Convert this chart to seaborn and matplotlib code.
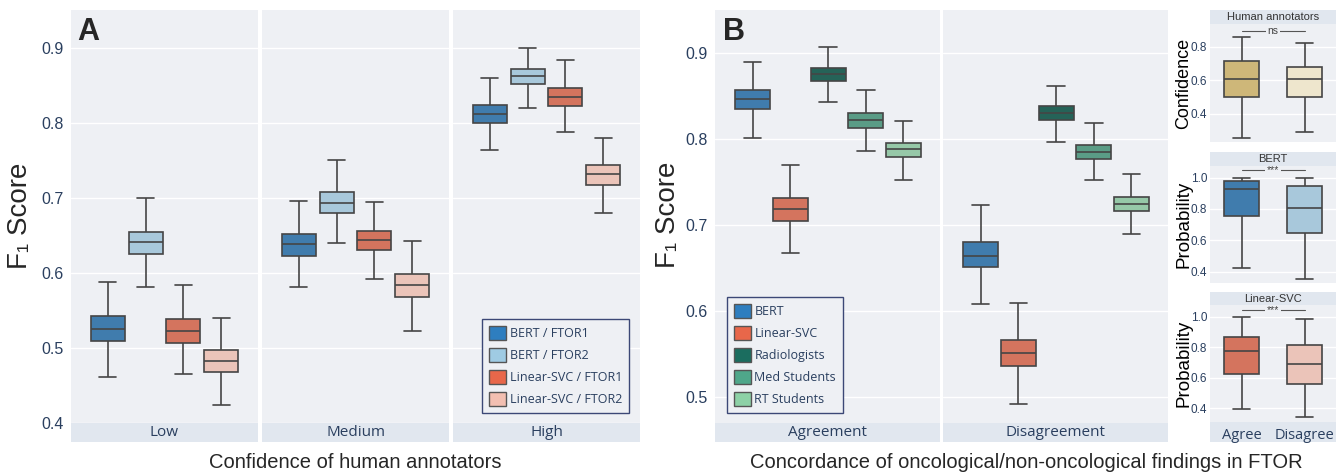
import numpy as np
import pandas as pd
import seaborn as sns
import matplotlib.pyplot as plt
from matplotlib.patches import Patch

W, H = 1342, 473

# Panel A - F1 score by confidence of human annotators
# each box: min, q1, median, q3, max
conf_levels = ['Low', 'Medium', 'High']
models_a = ['BERT / FTOR1', 'BERT / FTOR2', 'Linear-SVC / FTOR1', 'Linear-SVC / FTOR2']
bert_ftor1 = [[0.461, 0.509, 0.525, 0.542, 0.588],
              [0.581, 0.623, 0.639, 0.652, 0.696],
              [0.764, 0.799, 0.812, 0.824, 0.860]]
bert_ftor2 = [[0.581, 0.625, 0.641, 0.655, 0.700],
              [0.640, 0.679, 0.693, 0.708, 0.750],
              [0.820, 0.851, 0.862, 0.871, 0.900]]
svc_ftor1 = [[0.465, 0.507, 0.522, 0.538, 0.584],
             [0.592, 0.631, 0.644, 0.656, 0.694],
             [0.787, 0.822, 0.834, 0.846, 0.883]]
svc_ftor2 = [[0.424, 0.468, 0.483, 0.497, 0.540],
             [0.522, 0.568, 0.584, 0.598, 0.643],
             [0.679, 0.717, 0.731, 0.743, 0.780]]
colors_a = ['#2e7ebf', '#9fcbe3', '#e8674a', '#f3bfb1']

# Panel B - F1 score by concordance of findings
concordance = ['Agreement', 'Disagreement']
groups_b = ['BERT', 'Linear-SVC', 'Radiologists', 'Med Students', 'RT Students']
bert_b = [[0.801, 0.835, 0.847, 0.857, 0.890],
          [0.608, 0.651, 0.664, 0.680, 0.723]]
svc_b = [[0.667, 0.705, 0.719, 0.731, 0.770],
         [0.492, 0.536, 0.551, 0.566, 0.610]]
radiologists_b = [[0.843, 0.867, 0.876, 0.883, 0.907],
                  [0.797, 0.822, 0.830, 0.838, 0.862]]
med_students_b = [[0.786, 0.813, 0.822, 0.830, 0.857],
                  [0.752, 0.777, 0.785, 0.793, 0.819]]
rt_students_b = [[0.753, 0.779, 0.788, 0.796, 0.821],
                 [0.690, 0.716, 0.725, 0.733, 0.759]]
colors_b = ['#2e7ebf', '#e8674a', '#1b6d5f', '#4fa78a', '#8dd1a6']

# small panels on the right
agree_cats = ['Agree', 'Disagree']
human_conf = [[0.256, 0.500, 0.608, 0.712, 0.856],
              [0.292, 0.500, 0.608, 0.678, 0.820]]
bert_prob = [[0.421, 0.755, 0.928, 0.979, 0.996],
             [0.351, 0.645, 0.804, 0.949, 0.996]]
svc_prob = [[0.396, 0.622, 0.778, 0.866, 0.998],
            [0.341, 0.558, 0.690, 0.813, 0.985]]
side_titles = ['Human annotators', 'BERT', 'Linear-SVC']
side_ylabels = ['Confidence', 'Probability', 'Probability']
side_colors = [['#dcbd6b', '#f4e9c7'], ['#2e7ebf', '#9fcbe3'], ['#e8674a', '#f3bfb1']]
sig_text = ['ns', '***', '***']
sig_y = [0.896, 1.047, 1.044]

BG = '#eef0f4'
STRIP = '#e1e7ef'
TICK = '#2a3f5f'
LINE = '#454545'


def long_table(levels, names, series, col):
    rows = []
    for i, lvl in enumerate(levels):
        for name, vals in zip(names, series):
            for v in vals[i]:
                rows.append((lvl, name, v))
    return pd.DataFrame(rows, columns=['level', 'group', col])


df_a = long_table(conf_levels, models_a, [bert_ftor1, bert_ftor2, svc_ftor1, svc_ftor2], 'f1')
df_b = long_table(concordance, groups_b, [bert_b, svc_b, radiologists_b, med_students_b, rt_students_b], 'f1')

sns.set_theme(style='darkgrid', rc={'axes.facecolor': BG, 'grid.color': 'white', 'grid.linewidth': 1.0})
plt.rcParams['font.family'] = ['Liberation Sans', 'DejaVu Sans']

fig = plt.figure(figsize=(W / 100, H / 100), dpi=100)


def px_axes(x0, x1, y0, y1):
    return fig.add_axes([x0 / W, 1 - y1 / H, (x1 - x0) / W, (y1 - y0) / H])


def strip(x0, x1, y0, y1, label, **kw):
    s = px_axes(x0, x1, y0, y1)
    s.set_facecolor(STRIP)
    s.set_xticks([])
    s.set_yticks([])
    s.grid(False)
    for sp in s.spines.values():
        sp.set_visible(False)
    if label:
        s.text(0.5, 0.5, label, ha='center', va='center', transform=s.transAxes, **kw)
    return s


def boxes(ax, data, y, order, palette, width, xlim, ylim, yticks, show_y, ysize, pad):
    sns.boxplot(data=data, x='group', y=y, hue='group', order=order, hue_order=order,
                palette=palette, width=width, whis=(0, 100), showfliers=False,
                linecolor=LINE, linewidth=1.2, legend=False, ax=ax)
    ax.set_xlim(*xlim)
    ax.set_ylim(*ylim)
    ax.set_yticks(yticks)
    ax.set_xlabel('')
    ax.set_ylabel('')
    ax.tick_params(axis='x', length=0, labelbottom=False)
    ax.tick_params(axis='y', length=0, pad=pad, labelsize=ysize, labelcolor=TICK, labelleft=show_y)
    for sp in ax.spines.values():
        sp.set_visible(False)


def add_legend(ax, colors, labels, loc, anchor):
    handles = [Patch(facecolor=c, edgecolor='#555555', linewidth=1) for c in colors]
    leg = ax.legend(handles, labels, loc=loc, bbox_to_anchor=anchor,
                    frameon=True, fancybox=False, framealpha=1, edgecolor='#3c4876',
                    prop={'family': 'Open Sans', 'size': 9}, labelcolor=TICK,
                    handlelength=1.35, handleheight=1.35, handletextpad=0.3,
                    labelspacing=0.62, borderpad=0.55, borderaxespad=0)
    leg.get_frame().set_linewidth(1.0)


# ---- panel A facets
a_edges = [(71, 258), (262, 449), (453, 640)]
for i, (lvl, (x0, x1)) in enumerate(zip(conf_levels, a_edges)):
    ax = px_axes(x0, x1, 10, 423)
    boxes(ax, df_a[df_a['level'] == lvl], 'f1', models_a, colors_a, 0.9, (-0.97, 3.97),
          (0.4, 0.95), np.arange(0.4, 0.95, 0.1), i == 0, 11.5, 5)
    ax.set_yticklabels([f'{t:.1f}' for t in np.arange(0.4, 0.95, 0.1)])
    strip(x0, x1, 423, 442, lvl, family='Open Sans', fontsize=11, color=TICK)
    if lvl == 'High':
        add_legend(ax, colors_a, models_a, 'lower right', (0.94, 0.024))

# ---- panel B facets
b_edges = [(715, 940), (943, 1168)]
for i, (lvl, (x0, x1)) in enumerate(zip(concordance, b_edges)):
    ax = px_axes(x0, x1, 10, 423)
    boxes(ax, df_b[df_b['level'] == lvl], 'f1', groups_b, colors_b, 0.93, (-1.0, 4.97),
          (0.47, 0.95), np.arange(0.5, 0.95, 0.1), i == 0, 11.5, 5)
    ax.set_yticklabels([f'{t:.1f}' for t in np.arange(0.5, 0.95, 0.1)])
    strip(x0, x1, 423, 442, lvl, family='Open Sans', fontsize=11, color=TICK)
    if i == 0:
        add_legend(ax, colors_b, groups_b, 'lower left', (0.053, 0.024))

# ---- right small panels
side_data = [human_conf, bert_prob, svc_prob]
side_rows = [(10, 24, 142), (152, 166, 283), (292, 305, 422)]
side_ylims = [(0.23, 0.936), (0.328, 1.074), (0.308, 1.079)]
side_ticks = [[0.4, 0.6, 0.8], [0.4, 0.6, 0.8, 1.0], [0.4, 0.6, 0.8, 1.0]]
side_label_size = [13, 13.5, 13.5]
for k in range(3):
    top, mid, bot = side_rows[k]
    if k == 2:
        strip(1210, 1336, 422, 442, '')
    ax = px_axes(1210, 1336, mid, bot)
    d = long_table(['all'], agree_cats, [[side_data[k][0]], [side_data[k][1]]], 'v')
    boxes(ax, d, 'v', agree_cats, side_colors[k], 0.57, (-0.5, 1.5), side_ylims[k],
          side_ticks[k], True, 8.5, 2)
    ax.set_yticklabels([f'{t:.1f}' for t in side_ticks[k]])
    strip(1210, 1336, top, mid, side_titles[k], fontsize=8, color='#333333')
    ax.plot([0, 1], [sig_y[k]] * 2, color='#555555', lw=0.8)
    ax.text(0.5, sig_y[k], sig_text[k], ha='center', va='center', fontsize=7.5, color='#444444',
            bbox=dict(facecolor=BG, edgecolor='none', pad=1))
    fig.text(1184 / W, 1 - (mid + bot) / 2 / H, side_ylabels[k], rotation=90,
             ha='center', va='center', fontsize=side_label_size[k], color='black')
    if k == 2:
        ax.tick_params(axis='x', labelbottom=True, pad=4, labelsize=10.5, labelcolor=TICK)
        for t in ax.get_xticklabels():
            t.set_family('Open Sans')

# ---- titles and labels
fig.text(20 / W, 1 - 216 / H, 'F\u2081 Score', rotation=90, ha='center', va='center', fontsize=20)
fig.text(668 / W, 1 - 215 / H, 'F\u2081 Score', rotation=90, ha='center', va='center', fontsize=20)
fig.text(355 / W, 1 - 462 / H, 'Confidence of human annotators', ha='center', va='center', fontsize=14.5)
fig.text(1026 / W, 1 - 462 / H, 'Concordance of oncological/non-oncological findings in FTOR',
         ha='center', va='center', fontsize=14.5)
fig.text(77 / W, 1 - 40 / H, 'A', fontsize=22, fontweight='bold', ha='left', va='baseline')
fig.text(723 / W, 1 - 40 / H, 'B', fontsize=22, fontweight='bold', ha='left', va='baseline')

fig.savefig('out.png', dpi=100, facecolor='white')
